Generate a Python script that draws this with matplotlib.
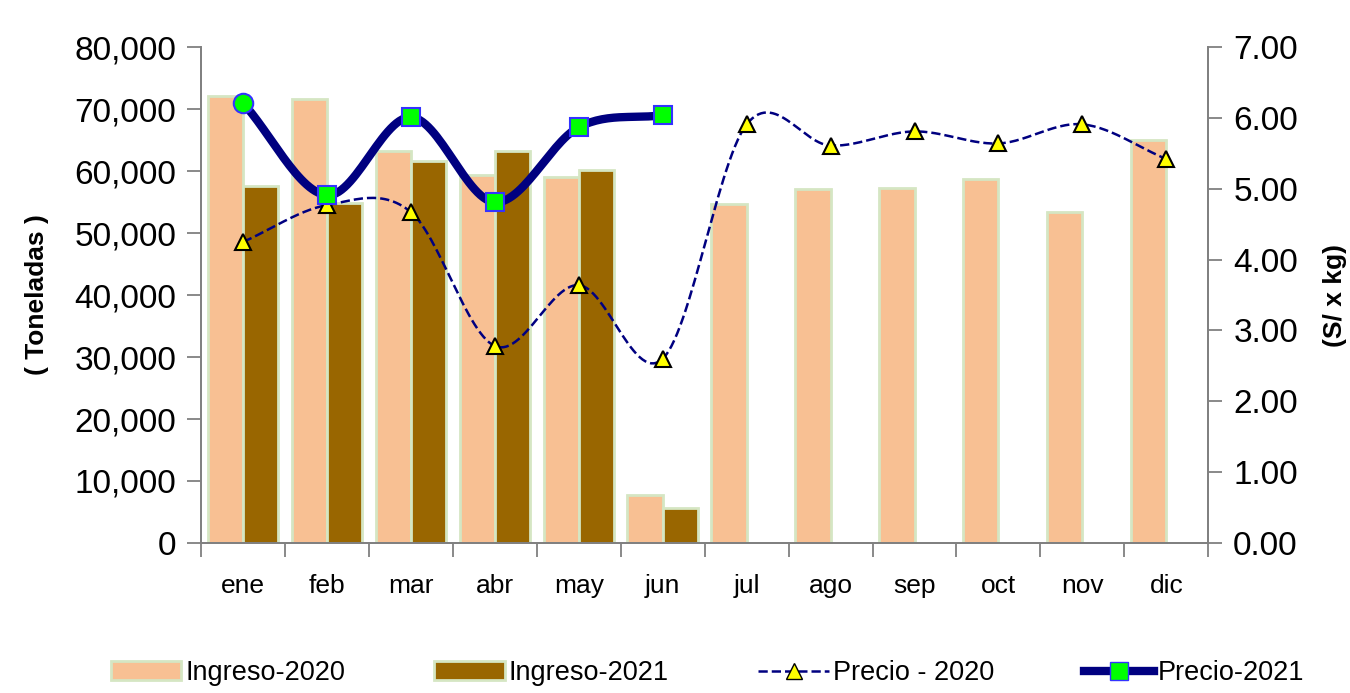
import matplotlib.pyplot as plt
import numpy as np
from matplotlib.ticker import FuncFormatter, FixedLocator
from matplotlib.lines import Line2D
from matplotlib.patches import Patch

plt.rcParams['font.family'] = ['Liberation Sans', 'DejaVu Sans']

meses = ['ene', 'feb', 'mar', 'abr', 'may', 'jun', 'jul', 'ago', 'sep', 'oct', 'nov', 'dic']
ingreso_2020 = [72100, 71600, 63200, 59400, 59000, 7800, 54700, 57100, 57300, 58700, 53400, 65000]
ingreso_2021 = [57600, 54800, 61600, 63200, 60200, 5700]
precio_2020 = [4.25, 4.77, 4.67, 2.78, 3.64, 2.60, 5.91, 5.61, 5.81, 5.64, 5.91, 5.42]
precio_2021 = [6.21, 4.91, 6.01, 4.81, 5.87, 6.04]


def suave(y, n=30):
    # curva suavizada tipo Excel (Catmull-Rom) que pasa por los puntos
    y = np.asarray(y, float)
    x = np.arange(len(y), dtype=float)
    px = np.concatenate([[2 * x[0] - x[1]], x, [2 * x[-1] - x[-2]]])
    py = np.concatenate([[2 * y[0] - y[1]], y, [2 * y[-1] - y[-2]]])
    xs, ys = [], []
    t = np.linspace(0, 1, n)
    for i in range(1, len(px) - 2):
        for p, out in ((px, xs), (py, ys)):
            p0, p1, p2, p3 = p[i - 1], p[i], p[i + 1], p[i + 2]
            out.extend(0.5 * ((2 * p1) + (-p0 + p2) * t
                              + (2 * p0 - 5 * p1 + 4 * p2 - p3) * t ** 2
                              + (-p0 + 3 * p1 - 3 * p2 + p3) * t ** 3))
    return np.array(xs), np.array(ys)


fig = plt.figure(figsize=(13.5, 6.93), dpi=100)
ax = fig.add_axes([0.149, 0.2165, 0.746, 0.7155])
ax2 = ax.twinx()

x = np.arange(len(meses))
w = 0.42
ax.bar(x - w / 2, ingreso_2020, w, color='#f8c093', edgecolor='#d5e6c3', linewidth=2)
ax.bar(np.arange(len(ingreso_2021)) + w / 2, ingreso_2021, w, color='#996600', edgecolor='#d5e6c3',
       linewidth=2)

ax.set_xlim(-0.5, 11.5)
ax.set_ylim(0, 80000)
ax.set_yticks(np.arange(0, 80001, 10000))
ax.yaxis.set_major_formatter(FuncFormatter(lambda v, p: f'{int(v):,}'))
ax.set_xticks(x)
ax.set_xticklabels(meses, fontsize=19)
ax.xaxis.set_minor_locator(FixedLocator(np.arange(-0.5, 12, 1)))
ax.tick_params(axis='x', which='major', length=0, pad=22)
ax.tick_params(axis='x', which='minor', length=10, width=1.3, color='#808080')
ax.tick_params(axis='y', labelsize=24, length=10, width=1.3, color='#808080', pad=8)
ax.set_ylabel('( Toneladas )', fontsize=19, fontweight='bold', labelpad=18)

xs, ys = suave(precio_2020)
ax2.plot(xs, ys, color='#000080', linestyle='--', linewidth=1.8)
ax2.plot(x, precio_2020, linestyle='none', marker='^', markersize=12, markerfacecolor='#ffff00',
         markeredgecolor='black', markeredgewidth=1.5)
x21 = np.arange(len(precio_2021))
xs, ys = suave(precio_2021)
ax2.plot(xs, ys, color='#000080', linewidth=6, solid_capstyle='round')
ax2.plot(x21[1:], precio_2021[1:], linestyle='none', marker='s', markersize=13, markerfacecolor='#00ff00',
         markeredgecolor='#3333ff', markeredgewidth=1.5)
ax2.plot(x21[:1], precio_2021[:1], linestyle='none', marker='o', markersize=14, markerfacecolor='#00ff00',
         markeredgecolor='#3333ff', markeredgewidth=1.5)

ax2.set_ylim(0, 7)
ax2.set_yticks(np.arange(0, 7.01, 1))
ax2.yaxis.set_major_formatter(FuncFormatter(lambda v, p: f'{v:.2f}'))
ax2.tick_params(axis='y', labelsize=24, length=10, width=1.3, color='#808080', pad=8)
ax2.set_ylabel('(S/ x kg)', fontsize=19, fontweight='bold', labelpad=18)

for a in (ax, ax2):
    a.spines['top'].set_visible(False)
    for s in ('left', 'right', 'bottom'):
        a.spines[s].set_color('#808080')
        a.spines[s].set_linewidth(1.3)

handles = [
    Patch(facecolor='#f8c093', edgecolor='#d5e6c3', linewidth=2),
    Patch(facecolor='#996600', edgecolor='#d5e6c3', linewidth=2),
    Line2D([], [], color='#000080', linestyle='--', linewidth=1.8, marker='^', markersize=12,
           markerfacecolor='#ffff00', markeredgecolor='black'),
    Line2D([], [], color='#000080', linewidth=6, marker='s', markersize=13,
           markerfacecolor='#00ff00', markeredgecolor='#3333ff'),
]
labels = ['Ingreso-2020', 'Ingreso-2021', 'Precio - 2020', 'Precio-2021']
fig.legend(handles, labels, loc='lower left', bbox_to_anchor=(0.078, 0.002), ncol=4, frameon=False,
           fontsize=19.5, handlelength=2.6, handletextpad=0.15, columnspacing=3.3,
           borderaxespad=0, borderpad=0.2)

plt.savefig('out.png', dpi=100)
